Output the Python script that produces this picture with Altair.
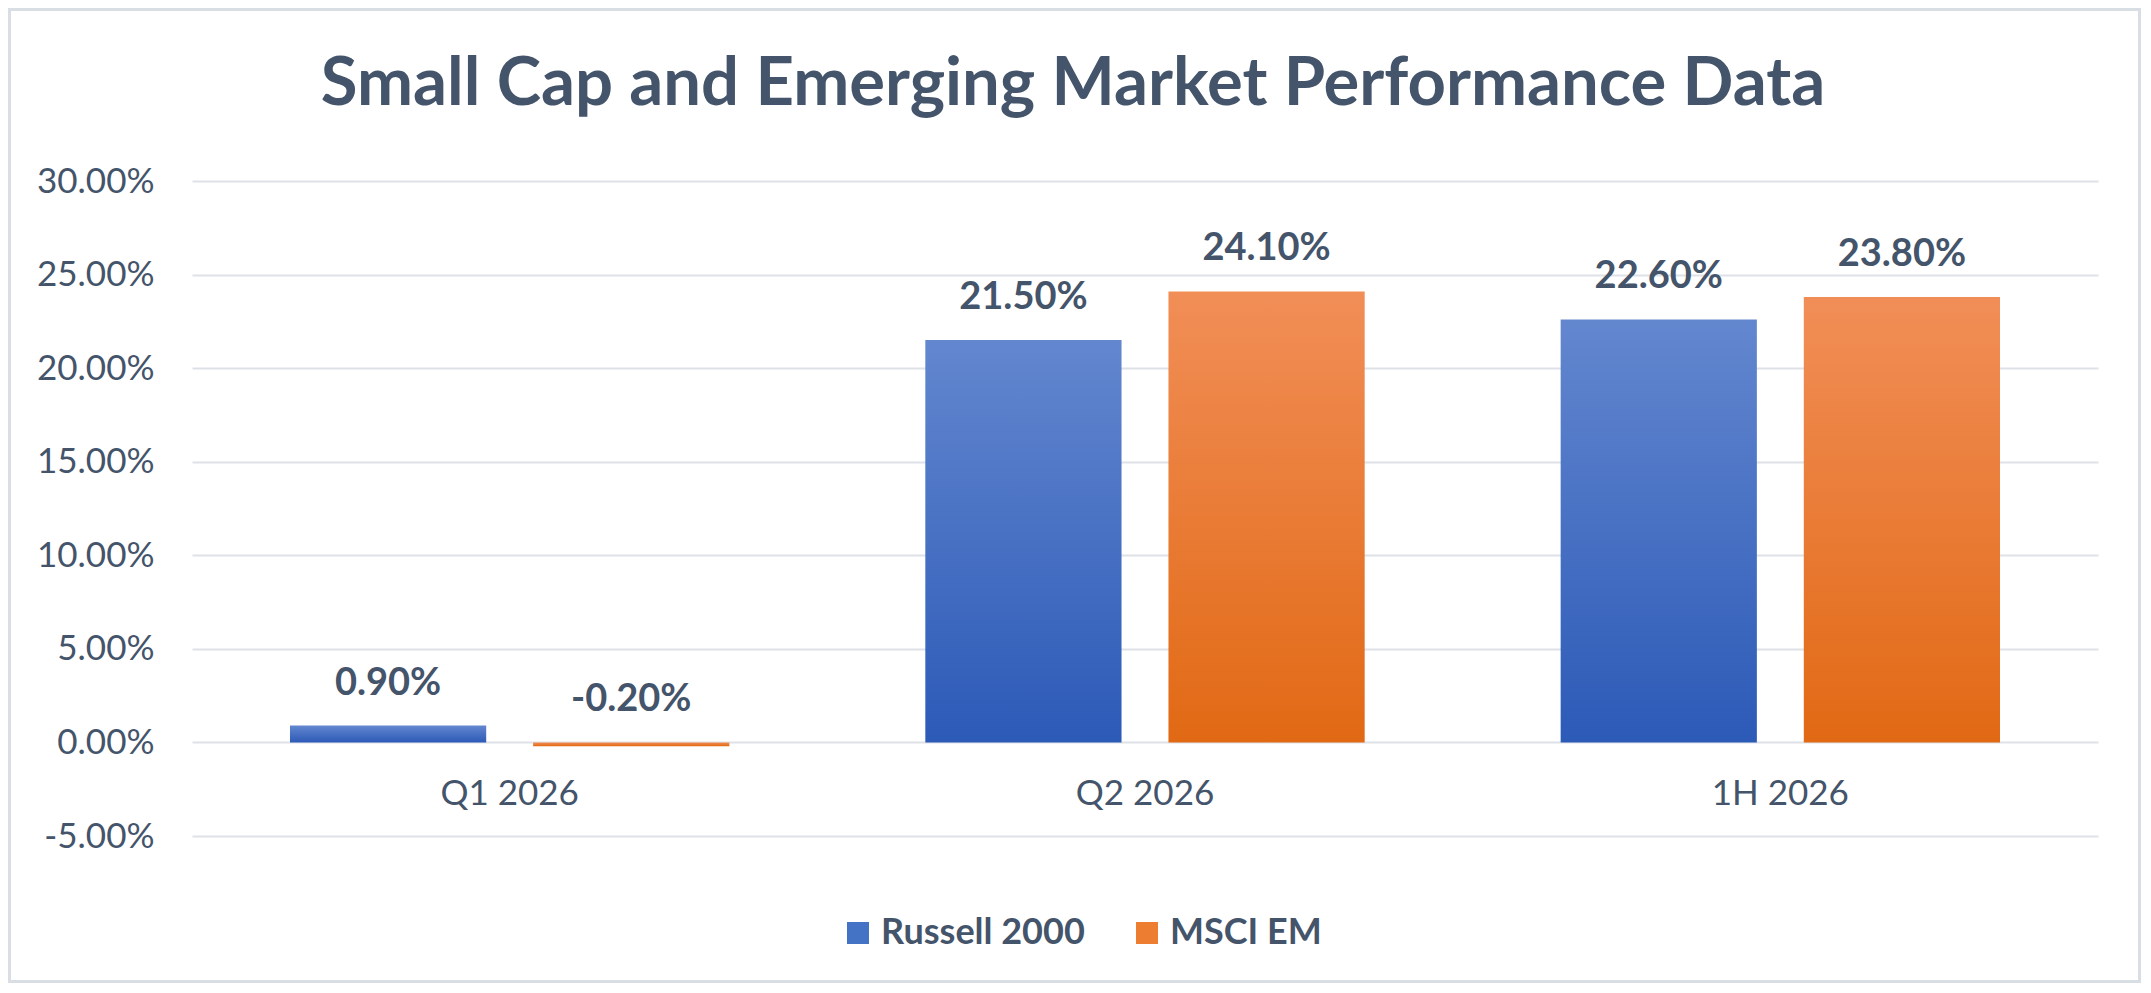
import altair as alt
import pandas as pd

categories = ["Q1 2026", "Q2 2026", "1H 2026"]
series = ["Russell 2000", "MSCI EM"]
russell_2000 = [0.009, 0.215, 0.226]
msci_em = [-0.002, 0.241, 0.238]
y_ticks = [-0.05, 0.0, 0.05, 0.10, 0.15, 0.20, 0.25, 0.30]

rows = []
for c, r, m in zip(categories, russell_2000, msci_em):
    rows.append({"cat": c, "series": series[0], "value": r})
    rows.append({"cat": c, "series": series[1], "value": m})
df = pd.DataFrame(rows)

TEXT = "#44546A"
GRID = "#DEE2E7"
W, H = 1906, 655
PAD = {"left": 184, "top": 173, "right": 43, "bottom": 147}
MINUS = "\u2212"

blue_grad = alt.Gradient(
    gradient="linear", x1=0, y1=0, x2=0, y2=1,
    stops=[alt.GradientStop(offset=0, color="#6387CF"),
           alt.GradientStop(offset=1, color="#2C5AB7")])
orange_grad = alt.Gradient(
    gradient="linear", x1=0, y1=0, x2=0, y2=1,
    stops=[alt.GradientStop(offset=0, color="#F18E57"),
           alt.GradientStop(offset=1, color="#E16914")])

x_enc = alt.X("cat:N", sort=categories, title=None,
              scale=alt.Scale(paddingInner=0, paddingOuter=0),
              axis=alt.Axis(offset=-94, domain=False, ticks=False, grid=False,
                            labelPadding=34, labelFontSize=35, labelColor=TEXT,
                            labelAngle=0))
xo_enc = alt.XOffset("series:N", scale=alt.Scale(domain=series, paddingInner=0.193,
                                                  paddingOuter=0.403))
y_enc = alt.Y("value:Q", title=None,
              scale=alt.Scale(domain=[-0.05, 0.30], nice=False, zero=False),
              axis=alt.Axis(values=y_ticks, format=".2%", domain=False, ticks=False,
                            labelExpr=f"replace(datum.label, '{MINUS}', '-')",
                            labelPadding=38, labelFontSize=35, labelColor=TEXT,
                            gridColor=GRID, gridWidth=2))

base = alt.Chart(df)

bars_r = base.transform_filter(alt.datum.series == series[0]).mark_bar(
    color=blue_grad).encode(x=x_enc, xOffset=xo_enc, y=y_enc)
bars_m = base.transform_filter(alt.datum.series == series[1]).mark_bar(
    color=orange_grad).encode(x=x_enc, xOffset=xo_enc, y=y_enc)

legend_layer = base.mark_bar(opacity=0).encode(
    x=x_enc, xOffset=xo_enc, y=y_enc,
    color=alt.Color("series:N", scale=alt.Scale(domain=series, range=["#4472C4", "#ED7D31"]),
                    legend=alt.Legend(title=None, orient="none", direction="horizontal",
                                      legendX=648, legendY=734, symbolType="square",
                                      symbolSize=484, symbolOpacity=1, symbolStrokeWidth=0,
                                      labelFontSize=36, labelFont="Lato", labelFontWeight="bold",
                                      labelColor=TEXT, labelOffset=5, columnPadding=44,
                                      labelLimit=400)))

labels = base.transform_calculate(
    ly="max(datum.value, 0)",
    lbl=f"replace(format(datum.value, '.2%'), '{MINUS}', '-')").mark_text(
    fontSize=38, fontWeight="bold", color=TEXT, baseline="alphabetic", dy=-31,
    font="Lato").encode(
    x=x_enc, xOffset=xo_enc, y=alt.Y("ly:Q"), text=alt.Text("lbl:N"))

frame = alt.Chart(pd.DataFrame({"k": [0]})).mark_rect(
    fillOpacity=0, stroke="#D9DEE4", strokeWidth=3).encode(
    x=alt.value(-182.5), x2=alt.value(W + 41.5),
    y=alt.value(-171.5), y2=alt.value(H + 145.5))

chart = alt.layer(frame, legend_layer, bars_r, bars_m, labels).properties(
    width=W, height=H, padding=PAD,
    autosize=alt.AutoSizeParams(type="none"),
    title=alt.TitleParams("Small Cap and Emerging Market Performance Data",
                          fontSize=67, font="Lato", fontWeight="bold", color=TEXT,
                          anchor="middle", frame="group", dx=-72, offset=0, dy=164,
                          baseline="alphabetic"),
).configure(font="Lato", background="white").configure_view(stroke=None)

chart.save("out.html", embed_options={"renderer": "svg", "actions": False})
